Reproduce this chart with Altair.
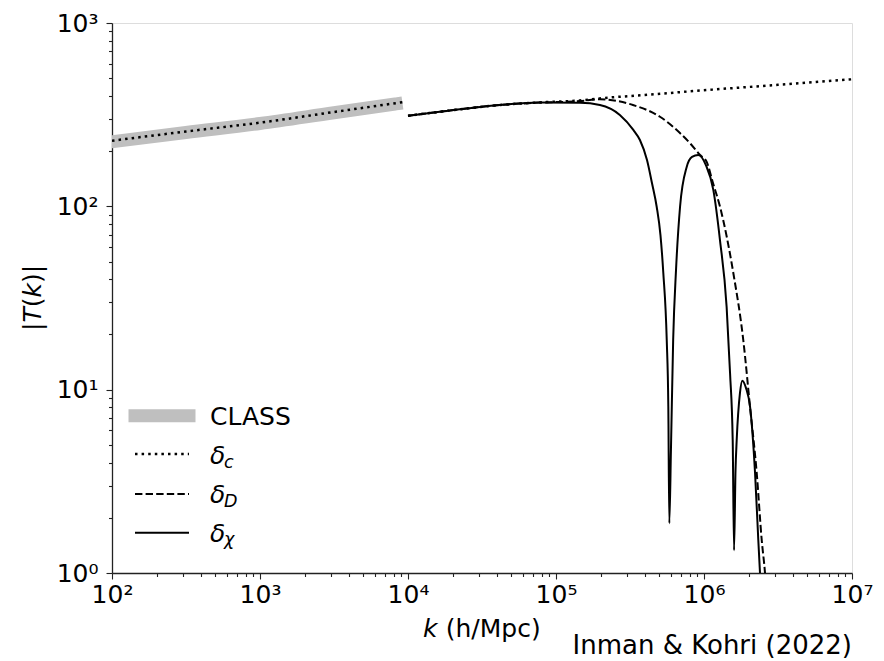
import altair as alt
import pandas as pd

# ---- transfer-function curves, |T(k)| versus k in h/Mpc ----
# CLASS reference solution (low-k range)
class_k = [1.0e2, 3.16e2, 1.0e3, 3.16e3, 8.3e3]
class_T = [225, 253, 283, 324, 362]

# delta_c: CLASS-matched range and high-k range
dc_lo_k = [1.0e2, 3.16e2, 1.0e3, 3.16e3, 9.2e3]
dc_lo_T = [228, 256, 286, 327, 370]
dc_hi_k = [1.0e4, 1.64e4, 4.19e4, 7.8e4, 1.45e5, 1.98e5, 3.98e5, 9.4e5, 3.16e6, 1.0e7]
dc_hi_T = [312, 328, 357, 369, 378, 388, 405, 428, 460, 493]

# delta_D
dD_k = [1.0e4, 1.64e4, 4.19e4, 7.8e4, 1.45e5, 1.98e5, 3.31e5, 5.04e5, 6.88e5,
        8.04e5, 9.4e5, 1.043e6, 1.15e6, 1.283e6, 1.578e6, 1.843e6, 2.046e6,
        2.271e6, 2.455e6, 2.584e6, 2.7e6]
dD_T = [312, 328, 357, 368, 375, 383.6, 357, 308, 251,
        221, 190.5, 174.5, 134, 99.5, 43.3, 18.6, 8.07,
        3.51, 1.51, 1.0, 0.6]

# delta_chi
dchi_k = [1.0e4, 1.64e4, 4.19e4, 7.8e4, 1.45e5, 1.98e5, 2.70e5, 3.33e5, 3.69e5,
          4.12e5, 4.45e5, 4.79e5, 5.08e5, 5.31e5, 5.60e5, 5.74e5, 5.83e5,
          5.98e5, 6.19e5, 6.47e5, 6.89e5, 7.64e5, 8.30e5, 9.14e5, 1.03e6,
          1.156e6, 1.282e6, 1.422e6, 1.500e6, 1.563e6, 1.596e6, 1.633e6,
          1.663e6, 1.750e6, 1.815e6, 1.923e6, 2.046e6, 2.213e6, 2.328e6,
          2.39e6, 2.5e6]
dchi_T = [312, 328, 357, 368, 367, 357, 315, 261, 230,
          179, 134, 99.5, 69.7, 43.3, 18.7, 8.1, 1.87,
          4.7, 18.7, 44.9, 99.5, 164, 186, 190.5, 168,
          123, 65.5, 28.3, 12.3, 5.3, 1.33, 3.64,
          5.3, 9.6, 11.2, 10.2, 8.1, 3.5, 1.51,
          1.0, 0.5]

x_ticks_major = [1e2, 1e3, 1e4, 1e5, 1e6, 1e7]
y_ticks_major = [1e0, 1e1, 1e2, 1e3]


def frame(k, T, seg):
    return pd.DataFrame({"k": k, "T": T, "seg": seg})


class_df = frame(class_k, class_T, "class")
dc_df = pd.concat([frame(dc_lo_k, dc_lo_T, "lo"), frame(dc_hi_k, dc_hi_T, "hi")])
dD_df = frame(dD_k, dD_T, "D")
dchi_df = frame(dchi_k, dchi_T, "chi")

FONT = "DejaVu Sans"
INK = "#222222"

# decade ticks get a label and a long tick, the 2..9 multiples a short one
is_decade = "abs(log(datum.value)/LN10 - round(log(datum.value)/LN10)) < 1e-6"
label_expr = ("(" + is_decade + ") ? '10' + ['⁰','¹','²','³','⁴','⁵','⁶','⁷'][round(log(datum.value)/LN10)] : ''")


def minor_values(majors):
    vals = []
    for m in majors[:-1]:
        vals += [m * j for j in range(2, 10)]
    return majors + vals


def axis(values, pad):
    return alt.Axis(
        values=values, labelExpr=label_expr, title=None, grid=False,
        tickSize={"condition": {"test": is_decade, "value": 6}, "value": 3.5},
        tickColor=INK, tickWidth=1.1, domainColor=INK, domainWidth=1.3,
        labelFont=FONT, labelFontSize=25, labelColor="black",
        labelPadding=pad, labelOverlap=False, labelFlush=False, labelBound=False,
    )


X = alt.X("k:Q", scale=alt.Scale(type="log", domain=[1e2, 1e7], nice=False),
          axis=axis(minor_values(x_ticks_major), 3))
Y = alt.Y("T:Q", scale=alt.Scale(type="log", domain=[1e0, 1e3], nice=False),
          axis=axis(minor_values(y_ticks_major), 8))

class_line = alt.Chart(class_df).mark_line(
    color="#bfbfbf", strokeWidth=13, strokeCap="square", clip=True, interpolate="monotone"
).encode(x=X, y=Y)

chi_line = alt.Chart(dchi_df).mark_line(
    color="black", strokeWidth=2, clip=True, interpolate="monotone"
).encode(x=X, y=Y)

D_line = alt.Chart(dD_df).mark_line(
    color="black", strokeWidth=2, strokeDash=[7.4, 3.2], clip=True, interpolate="monotone"
).encode(x=X, y=Y)

c_line = alt.Chart(dc_df).mark_line(
    color="black", strokeWidth=2.5, strokeDash=[2.5, 4.1], clip=True, interpolate="monotone"
).encode(x=X, y=Y, detail="seg:N")

one = pd.DataFrame({"a": [0]})


def txt(s, x, y, size=25, italic=False, align="left", angle=0, baseline="alphabetic"):
    return alt.Chart(one).mark_text(
        text=s, font=FONT, fontSize=size, fontStyle="italic" if italic else "normal",
        align=align, baseline=baseline, angle=angle, color="black",
    ).encode(x=alt.value(x), y=alt.value(y))


def handle(y, **kw):
    return alt.Chart(one).mark_rule(**kw).encode(
        x=alt.value(23), x2=alt.value(77), y=alt.value(y))


legend = [
    handle(392.7, color="#bfbfbf", strokeWidth=13, strokeCap="square"),
    handle(431, color="black", strokeWidth=2.5, strokeDash=[2.5, 4.1]),
    handle(471, color="black", strokeWidth=2, strokeDash=[7.4, 3.2]),
    handle(509.7, color="black", strokeWidth=2),
    txt("CLASS", 98, 402),
    txt("δ", 98, 441, italic=True), txt("c", 112, 445, size=17.5, italic=True),
    txt("δ", 98, 480, italic=True), txt("D", 112, 484, size=17.5, italic=True),
    txt("δ", 98, 519, italic=True), txt("χ", 112, 522, size=17.5, italic=True),
]

# axis titles with italic symbols
x_title = [txt("k", 311, 614, italic=True), txt("(h/Mpc)", 333.7, 614)]
y_pieces = [("|", False, 8.42), ("T", True, 15.27), ("(", False, 9.75),
            ("k", True, 14.48), (")|", False, 18.17)]
y_title = []
pos = 308.0
for s, it, w in y_pieces:
    y_title.append(txt(s, -71, pos, italic=it, angle=270))
    pos -= w

credit = txt("Inman & Kohri (2022)", 740, 631, size=26, align="right")

chart = alt.layer(
    class_line, c_line, D_line, chi_line, *legend, *x_title, *y_title, credit
).properties(
    width=740, height=550,
    padding={"left": 112, "top": 23, "right": 32, "bottom": 88},
    autosize=alt.AutoSizeParams(type="none"),
).configure_view(stroke=INK, strokeWidth=1.3).configure(background="white")

chart.save("out.html", embed_options={"renderer": "svg", "actions": False})
